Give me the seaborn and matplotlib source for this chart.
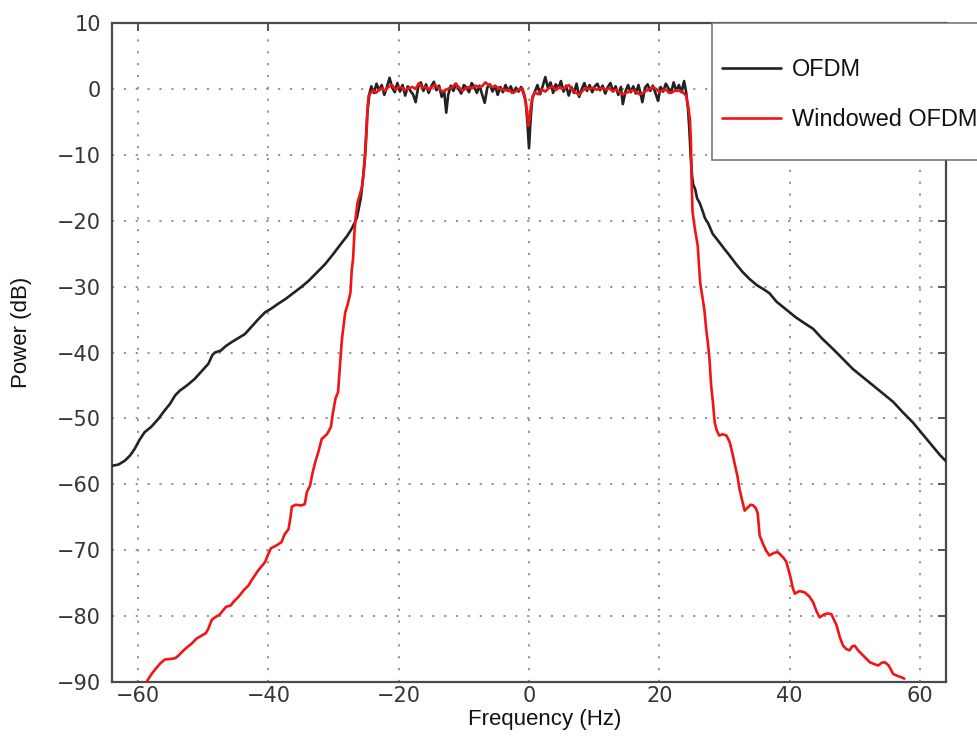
import matplotlib
matplotlib.use("Agg")
import matplotlib.pyplot as plt
from matplotlib.patches import Rectangle
import seaborn as sns
import numpy as np
import pandas as pd

# OFDM (siyah) spektrum noktalari
ofdm_freq = [
    -64.0, -63.0, -62.0, -61.2, -60.5, -59.8, -59.0, -58.0, -56.9, -56.0,
    -55.1, -54.3, -53.6, -52.5, -51.3, -50.3, -49.2, -48.6, -48.2, -47.3,
    -46.5, -45.6, -44.6, -43.6, -42.5, -41.5, -40.5, -39.5, -38.5, -37.4,
    -36.2, -35.0, -33.8, -32.5, -31.3, -30.0, -28.7, -27.9, -27.2, -26.7,
    -26.4, -26.1, -25.8, -25.5, -25.2, -25.0, -24.8, -24.5,
    -24.2, -23.8, -23.4, -23.0, -22.6, -22.2, -21.8, -21.4, -21.0, -20.6,
    -20.2, -19.8, -19.4, -19.0, -18.6, -18.2, -17.8, -17.4, -17.0, -16.6,
    -16.2, -15.8, -15.4, -15.0, -14.6, -14.2, -13.8, -13.4, -13.0, -12.7,
    -12.4, -12.0, -11.6, -11.2, -10.8, -10.4, -10.0, -9.6, -9.2, -8.8,
    -8.4, -8.0, -7.6, -7.2, -6.8, -6.4, -6.0, -5.6, -5.2, -4.8,
    -4.4, -4.0, -3.6, -3.2, -2.8, -2.4, -2.0, -1.6, -1.2, -0.8,
    -0.5, -0.25, 0.0, 0.25, 0.5, 0.9, 1.3, 1.7, 2.1, 2.5,
    2.9, 3.3, 3.7, 4.1, 4.5, 4.9, 5.3, 5.7, 6.1, 6.5,
    6.9, 7.3, 7.7, 8.1, 8.5, 8.9, 9.3, 9.7, 10.1, 10.5,
    10.9, 11.3, 11.7, 12.1, 12.5, 12.9, 13.3, 13.7, 14.1, 14.4,
    14.8, 15.2, 15.6, 16.0, 16.4, 16.8, 17.1, 17.4, 17.8, 18.2,
    18.6, 19.0, 19.4, 19.8, 20.2, 20.6, 21.0, 21.4, 21.8, 22.2,
    22.6, 23.0, 23.4, 23.8, 24.1, 24.4, 24.6, 24.8, 25.0, 25.2,
    25.5, 25.8, 26.2, 26.6, 27.0, 27.5, 28.2, 29.0, 30.0, 30.8,
    31.8, 32.8, 33.8, 35.0, 36.0, 36.9, 38.0, 39.0, 40.0, 41.0,
    42.2, 43.6, 45.0, 46.7, 48.2, 49.7, 51.2, 52.8, 54.3, 55.9,
    57.4, 58.9, 60.0, 61.0, 62.0, 63.1, 64.0,
]
ofdm_power = [
    -57.2, -57.0, -56.4, -55.6, -54.6, -53.3, -52.1, -51.3, -50.1, -48.9,
    -47.8, -46.5, -45.8, -45.0, -44.0, -42.9, -41.7, -40.4, -40.0, -39.7,
    -39.0, -38.4, -37.8, -37.2, -36.0, -34.9, -33.9, -33.3, -32.6, -31.9,
    -31.0, -30.1, -29.1, -27.8, -26.6, -25.0, -23.3, -22.3, -21.2, -20.2,
    -19.5, -18.0, -16.5, -13.8, -10.5, -7.0, -3.5, -0.8,
    0.4, -0.6, 0.8, -0.2, 0.6, -0.9, 0.3, 1.7, 0.2, -0.5,
    0.9, -0.4, 0.6, -1.0, 0.4, -0.3, -0.8, -2.0, 0.3, 1.0,
    -0.3, 0.7, -0.6, 0.4, 1.1, -0.2, 0.5, -1.2, -0.5, -3.6,
    -0.9, 0.5, -0.3, 0.8, 0.0, -0.7, 0.6, 0.2, -0.5, 0.9,
    0.3, -0.6, 0.5, -0.8, -2.1, 0.2, 0.7, -0.4, 0.5, -0.9,
    0.3, -0.5, 0.6, -0.3, 0.4, -0.6, 0.2, -0.4, 0.3, -0.8,
    -2.0, -5.0, -9.0, -4.5, -1.5, -0.4, 0.6, -0.8, 0.4, 1.8,
    0.2, 1.0, -0.6, 0.7, 0.1, 1.2, -0.4, 0.5, -1.0, 0.3,
    -0.6, 0.8, -1.2, 0.0, 0.9, -0.3, 0.6, -0.5, 0.4, 0.8,
    -0.2, 0.5, -0.7, 0.3, 0.9, -0.4, 0.4, -0.9, 0.3, -2.3,
    -0.4, 0.6, -0.5, 0.4, -0.7, 0.6, -0.6, -2.0, 0.2, 0.7,
    -0.3, 0.5, -0.6, -1.8, 0.3, -0.4, 0.8, 0.1, -0.6, 1.0,
    -0.3, 0.6, -0.5, 1.2, -0.4, -3.0, -6.0, -10.0, -13.0, -14.5,
    -15.2, -16.6, -17.3, -18.4, -19.6, -20.4, -22.0, -23.0, -24.3, -25.3,
    -26.6, -27.8, -28.8, -29.8, -30.4, -31.0, -32.3, -33.1, -33.9, -34.7,
    -35.5, -36.4, -37.9, -39.5, -41.0, -42.5, -43.7, -45.0, -46.2, -47.5,
    -49.1, -50.6, -51.9, -53.1, -54.3, -55.6, -56.5,
]

# Pencerelenmis OFDM (kirmizi)
win_freq = [
    -58.7, -58.0, -57.3, -56.6, -55.9, -55.0, -54.3, -53.8, -52.8, -51.8,
    -51.0, -50.3, -49.6, -49.2, -48.7, -48.2, -47.5, -47.0, -46.5, -45.8,
    -45.3, -44.6, -43.8, -43.0, -42.6, -41.5, -40.5, -40.1, -39.6, -38.8,
    -38.0, -37.5, -36.9, -36.6, -36.4, -35.8, -34.9, -34.4, -34.1, -33.6,
    -33.2, -32.8, -32.3, -31.8, -31.0, -30.4, -30.1, -29.7, -29.3, -29.1,
    -28.9, -28.7, -28.4, -28.2, -27.8, -27.4, -27.2, -27.0, -26.8, -26.6,
    -26.3, -26.0, -25.6, -25.3, -25.1, -24.9, -24.75, -24.6,
    -24.3, -23.9, -23.5, -23.1, -22.6, -22.1, -21.6, -21.0, -20.5, -20.0,
    -19.5, -19.0, -18.5, -17.9, -17.4, -16.9, -16.4, -15.9, -15.3, -14.8,
    -14.4, -13.8, -13.3, -12.8, -12.3, -11.8, -11.3, -10.8, -10.2, -9.7,
    -9.2, -8.7, -8.2, -7.7, -7.2, -6.7, -6.2, -5.6, -5.1, -4.6,
    -4.1, -3.6, -3.1, -2.6, -2.1, -1.6, -1.0, -0.6, -0.3, -0.1,
    0.1, 0.3, 0.6, 0.9, 1.4, 2.0, 2.5, 3.0, 3.6, 4.1,
    4.6, 5.1, 5.6, 6.1, 6.6, 7.1, 7.7, 8.2, 8.7, 9.2,
    9.8, 10.3, 10.8, 11.3, 11.8, 12.3, 12.8, 13.4, 13.9, 14.4,
    14.9, 15.4, 15.9, 16.4, 16.9, 17.4, 17.9, 18.4, 19.0, 19.5,
    20.0, 20.5, 21.0, 21.5, 22.0, 22.5, 23.0, 23.5, 24.1,
    24.4, 24.7, 24.85, 24.95, 25.1, 25.5, 25.9, 26.1, 26.3, 26.9,
    27.2, 27.5, 27.7, 27.95, 28.2, 28.5, 28.8, 29.2, 29.7, 30.3,
    30.8, 31.2, 31.5, 32.0, 32.3, 32.7, 33.1, 33.6, 34.0, 34.4,
    34.8, 35.1, 35.4, 35.9, 36.4, 36.9, 37.6, 38.2, 38.5, 39.1,
    39.5, 40.1, 40.5, 40.8, 41.5, 42.3, 43.0, 43.6, 44.1, 44.6,
    45.2, 45.8, 46.4, 47.2, 47.7, 48.2, 48.7, 49.2, 49.6, 50.0,
    50.5, 51.0, 51.7, 52.3, 53.0, 53.6, 54.1, 54.6, 55.2, 55.9,
    56.6, 57.2, 57.6,
]
win_power = [
    -90.0, -88.9, -88.0, -87.2, -86.6, -86.5, -86.4, -86.0, -85.0, -84.2,
    -83.4, -83.0, -82.6, -81.9, -80.6, -80.2, -79.8, -79.2, -78.6, -78.4,
    -77.8, -77.1, -76.1, -75.3, -74.6, -73.0, -71.8, -70.8, -69.7, -69.3,
    -68.8, -67.6, -66.8, -65.0, -63.4, -63.1, -63.2, -63.0, -61.2, -60.2,
    -58.2, -56.6, -55.0, -53.1, -52.4, -51.3, -49.2, -47.0, -46.0, -43.2,
    -40.5, -37.9, -35.5, -33.9, -32.6, -30.9, -27.5, -25.8, -22.0, -19.5,
    -17.2, -16.2, -14.7, -12.0, -9.6, -6.0, -2.5, -1.0,
    -0.6, -0.2, -0.6, -0.2, 0.1, -0.3, 0.3, 0.6, -0.1, 0.3,
    0.2, -0.2, 0.1, 0.3, 0.0, 0.9, 0.2, 0.3, -0.1, 0.4,
    0.6, 0.1, -0.4, -0.2, 0.1, 0.2, 0.8, 0.3, -0.3, 0.1,
    0.3, 0.1, 0.5, 0.3, 0.4, 1.0, 0.6, 0.3, 0.4, 0.1,
    -0.1, -0.2, -0.1, -0.6, -0.4, -0.1, 0.1, -1.3, -3.5, -5.6,
    -4.5, -2.5, -1.0, -0.5, -0.8, -0.1, -0.4, 0.1, 0.4, -0.2,
    0.3, 0.0, 0.2, 0.6, -0.1, -0.5, -0.9, -0.3, 0.1, 0.0,
    0.2, -0.1, 0.0, 0.1, -0.1, 0.1, -0.3, -0.1, -0.5, -0.8,
    -0.6, -0.4, -0.2, -0.4, -0.8, -0.7, -0.3, -0.1, 0.3, 0.0,
    -0.5, -0.2, -0.1, -0.6, -0.5, -0.2, -0.3, -0.4, -1.0,
    -2.5, -4.6, -8.0, -13.7, -18.7, -21.5, -23.8, -27.0, -29.6, -33.4,
    -36.5, -39.0, -41.0, -45.0, -47.3, -50.6, -51.8, -52.6, -52.4, -52.6,
    -53.6, -55.2, -56.6, -58.8, -60.7, -62.4, -64.0, -63.5, -63.1, -63.2,
    -63.6, -64.4, -67.8, -69.0, -70.1, -70.8, -70.4, -70.3, -70.6, -71.2,
    -71.8, -74.0, -75.8, -76.6, -76.2, -76.4, -77.0, -77.9, -79.2, -80.2,
    -79.8, -79.6, -79.7, -81.4, -83.2, -84.5, -85.0, -85.2, -84.6, -84.5,
    -85.2, -85.7, -86.4, -87.0, -87.3, -87.5, -87.1, -87.0, -87.5, -88.8,
    -89.1, -89.3, -89.5,
]

x_ticks = [-60, -40, -20, 0, 20, 40, 60]
y_ticks = [10, 0, -10, -20, -30, -40, -50, -60, -70, -80, -90]

ofdm_df = pd.DataFrame({"Frequency": ofdm_freq, "Power": ofdm_power})
win_df = pd.DataFrame({"Frequency": win_freq, "Power": win_power})

sns.set_style("white")
plt.rcParams["font.family"] = ["DejaVu Sans"]

fig = plt.figure(figsize=(9.77, 7.42), dpi=100)
ax = fig.add_axes([0.1146, 0.0809, 0.8537, 0.888])

sns.lineplot(data=ofdm_df, x="Frequency", y="Power", ax=ax, color="#222222",
             linewidth=1.9, sort=False, estimator=None, label="OFDM", zorder=3)
sns.lineplot(data=win_df, x="Frequency", y="Power", ax=ax, color="#f01515",
             linewidth=1.9, sort=False, estimator=None, label="Windowed OFDM", zorder=4)

ax.set_xlim(-64, 64)
ax.set_ylim(-90, 10)
ax.set_xticks(x_ticks)
ax.set_yticks(y_ticks)
ax.grid(True, color="#949494", linewidth=1.4, linestyle=(0, (1.1, 5.0)))

for s in ax.spines.values():
    s.set_color("#4a4a4a")
    s.set_linewidth(1.6)

ax.tick_params(direction="in", top=True, right=True, length=6, width=1.3,
               color="#4a4a4a", labelsize=15, labelcolor="#353535")
ax.tick_params(axis="y", pad=8)
ax.tick_params(axis="x", pad=3)

ax.set_xlabel("Frequency (Hz)", fontsize=16, family="Liberation Sans", color="#111111")
ax.set_ylabel("Power (dB)", fontsize=16, family="Liberation Sans", color="#111111")
ax.xaxis.set_label_coords(0.519, -0.041)
ax.yaxis.set_label_coords(-0.096, 0.53)

# lejant cercevesi eksen disina tasiyor
ax.add_patch(Rectangle((0.7194, 0.792), 0.4, 0.208, transform=ax.transAxes,
                       clip_on=False, facecolor="white", edgecolor="#6e6e6e",
                       linewidth=1.1, zorder=5))
leg = ax.legend(loc="upper left", bbox_to_anchor=(0.7204, 0.9605), frameon=False,
                prop={"family": "Liberation Sans", "size": 16.9},
                handlelength=2.5, handletextpad=0.48, borderpad=0.4,
                labelspacing=1.15, borderaxespad=0)
leg.set_zorder(6)
for t in leg.get_texts():
    t.set_color("#111111")

plt.savefig("out.png", dpi=100)
